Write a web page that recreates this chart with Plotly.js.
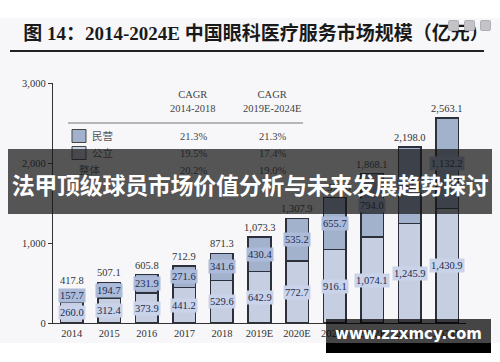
<!DOCTYPE html>
<html>
<head>
<meta charset="utf-8">
<script src="https://cdn.plot.ly/plotly-3.0.1.min.js"></script>
<style>
  html, body { margin: 0; padding: 0; background: #ffffff; }
  #wrap { position: relative; width: 500px; height: 362px; overflow: hidden; }
  #bg { position: absolute; left: 0; top: 18px; width: 500px; height: 325px; background: #f7f7f9; }
  #chart { position: absolute; left: 0; top: 0; width: 500px; height: 362px; }
  #banner { position: absolute; left: 8px; top: 149px; width: 484px; height: 65px; background: rgba(22,22,22,0.72);
            display: flex; align-items: center; justify-content: center; padding-top: 5px; box-sizing: border-box; }
  #banner span { color: #fff; font-family: 'Noto Sans CJK SC', sans-serif; font-weight: bold; font-size: 23px;
            white-space: nowrap; letter-spacing: -0.3px; }
  #wm1 { position: absolute; left: 326px; top: 319px; width: 165px; height: 24px; background: rgba(0,0,0,0.72); }
  #wm2 { position: absolute; left: 326px; top: 343px; width: 165px; height: 10px; background: #000; }
  #wmtext { position: absolute; left: 326px; top: 319px; width: 165px; height: 30px; color: #fff;
            display: flex; align-items: center; justify-content: center;
            font-family: 'DejaVu Sans', sans-serif; font-weight: bold; font-size: 15px; white-space: nowrap; }
  .icon { position: absolute; top: 20px; width: 9px; height: 9px; background: #c4c4c8; border-radius: 2px; border: 1px solid #b0b0b4; }
</style>
</head>
<body>
<div id="wrap">
  <div id="bg"></div>
  <div id="chart"></div>
  <div class="icon" style="left:448px"></div>
  <div class="icon" style="left:464px"></div>
  <div class="icon" style="left:480px"></div>
  <div id="banner"><span>法甲顶级球员市场价值分析与未来发展趋势探讨</span></div>
  <div id="wm1"></div>
  <div id="wm2"></div>
  <div id="wmtext">www.zzxmcy.com</div>
</div>
<script>
// ---- data ----
const titleText = '图 14：2014-2024E 中国眼科医疗服务市场规模（亿元）';
const years = ['2014','2015','2016','2017','2018','2019E','2020E','2021E','2022E','2023E','2024E'];
const publicVals = [260.0, 312.4, 373.9, 441.2, 529.6, 642.9, 772.7, 916.1, 1074.1, 1245.9, 1430.9];
const privateVals = [157.7, 194.7, 231.9, 271.6, 341.6, 430.4, 535.2, 655.7, 794.0, 952.1, 1132.2];
const totals = [417.8, 507.1, 605.8, 712.9, 871.3, 1073.3, 1307.9, 1571.8, 1868.1, 2198.0, 2563.1];
const yTickVals = [0, 1000, 2000, 3000];
const yTickText = ['0', '1,000', '2,000', '3,000'];
const cagrHeads = ['CAGR<br>2014-2018', 'CAGR<br>2019E-2024E'];
const cagrRows = ['民营', '公立', '整体'];
const cagr1418 = ['21.3%', '19.5%', '20.2%'];
const cagr1924 = ['21.3%', '17.4%', '19.0%'];

// ---- styling ----
const colPublic = '#c6cee2';
const colPrivate = '#a2b1cc';
const lblPublicBg = '#c9d3ea';
const lblPrivateBg = '#abbbd9';
const edge = '#2b303b';
const serif = 'Liberation Serif, Times New Roman, serif';
const cjk = 'Liberation Serif, Noto Sans CJK SC, serif';

function fmt(v) { return v.toLocaleString('en-US', {minimumFractionDigits: 1, maximumFractionDigits: 1}); }

// plot area in pixels: x 53..466, y 83..323
const L = 53, R = 34, T = 83, B = 39, W = 500, H = 362;
const pw = W - L - R, ph = H - T - B;
const px = x => (x - L) / pw;
const py = y => (H - B - y) / ph;

const traces = [
  { type: 'bar', name: '公立', x: years, y: publicVals, width: 0.6,
    marker: { color: colPublic, line: { color: edge, width: 1.5 } }, hoverinfo: 'skip', showlegend: false },
  { type: 'bar', name: '民营', x: years, y: privateVals, width: 0.6,
    marker: { color: colPrivate, line: { color: edge, width: 1.5 } }, hoverinfo: 'skip', showlegend: false }
];

const ann = [];
years.forEach((yr, i) => {
  ann.push({ x: i, y: publicVals[i] / 2, xref: 'x', yref: 'y', text: fmt(publicVals[i]), showarrow: false,
    xanchor: 'center', yanchor: 'middle',
    bgcolor: lblPublicBg, borderpad: 1, font: { family: serif, size: 10.5, color: '#1e2a4d' } });
  ann.push({ x: i, y: publicVals[i] + privateVals[i] / 2, xref: 'x', yref: 'y', text: fmt(privateVals[i]), showarrow: false,
    xanchor: 'center', yanchor: 'middle',
    bgcolor: lblPrivateBg, borderpad: 1, font: { family: serif, size: 10.5, color: '#1e2a4d' } });
  ann.push({ x: i, y: publicVals[i] + privateVals[i], xref: 'x', yref: 'y', text: fmt(totals[i]), showarrow: false,
    xanchor: 'center', yanchor: 'bottom', yshift: 2, font: { family: serif, size: 10.5, color: '#333' } });
});

// CAGR table
const headX = [px(193), px(272)];
cagrHeads.forEach((h, j) => {
  ann.push({ x: headX[j], y: py(101.5), xref: 'paper', yref: 'paper', text: h, showarrow: false,
    xanchor: 'center', yanchor: 'middle', font: { family: serif, size: 10.5, color: '#444' } });
});
const rowY = [136, 153, 170];
const shapes = [];
cagrRows.forEach((r, k) => {
  const yy = py(rowY[k]);
  ann.push({ x: px(k < 2 ? 90 : 77), y: yy, xref: 'paper', yref: 'paper', text: r, showarrow: false,
    xanchor: 'left', yanchor: 'middle', font: { family: cjk, size: 10.5, color: '#555' } });
  ann.push({ x: headX[0], y: yy, xref: 'paper', yref: 'paper', text: cagr1418[k], showarrow: false,
    xanchor: 'center', yanchor: 'middle', font: { family: serif, size: 10.5, color: '#444' } });
  ann.push({ x: headX[1], y: yy, xref: 'paper', yref: 'paper', text: cagr1924[k], showarrow: false,
    xanchor: 'center', yanchor: 'middle', font: { family: serif, size: 10.5, color: '#444' } });
  if (k < 2) {
    shapes.push({ type: 'rect', xref: 'paper', yref: 'paper', x0: px(72), x1: px(86), y0: py(rowY[k] + 6.5), y1: py(rowY[k] - 6.5),
      fillcolor: k === 0 ? colPrivate : colPublic, line: { color: '#444', width: 1 } });
  }
});
shapes.push({ type: 'line', xref: 'paper', yref: 'paper', x0: px(68), x1: px(303), y0: py(123), y1: py(123),
  line: { color: '#777', width: 1.2 } });
// title underline
shapes.push({ type: 'line', xref: 'paper', yref: 'paper', x0: px(10), x1: px(484), y0: py(51), y1: py(51),
  line: { color: '#222', width: 2 } });

const layout = {
  width: W, height: H,
  margin: { l: L, r: R, t: T, b: B },
  paper_bgcolor: 'rgba(0,0,0,0)', plot_bgcolor: 'rgba(0,0,0,0)',
  barmode: 'stack',
  title: { text: titleText, x: 0.512, xref: 'container', y: 1 - 33 / H, yref: 'container', yanchor: 'middle', xanchor: 'center',
    font: { family: cjk, size: 19, color: '#1a1a1a', weight: 'bold' } },
  xaxis: { type: 'category', range: [-0.5, 10.5], showline: true, linecolor: '#333', linewidth: 1.2, ticks: '', showgrid: false,
    zeroline: false, tickfont: { family: serif, size: 10.5, color: '#333' }, fixedrange: true },
  yaxis: { range: [0, 3000], tickvals: yTickVals, ticktext: yTickText, showline: true, linecolor: '#333', linewidth: 1.2,
    ticks: 'outside', ticklen: 4, tickcolor: '#333', showgrid: false, zeroline: false,
    tickfont: { family: serif, size: 10.5, color: '#333' }, fixedrange: true },
  annotations: ann,
  shapes: shapes,
  showlegend: false
};

Plotly.newPlot('chart', traces, layout, { staticPlot: true, displayModeBar: false });
</script>
</body>
</html>
